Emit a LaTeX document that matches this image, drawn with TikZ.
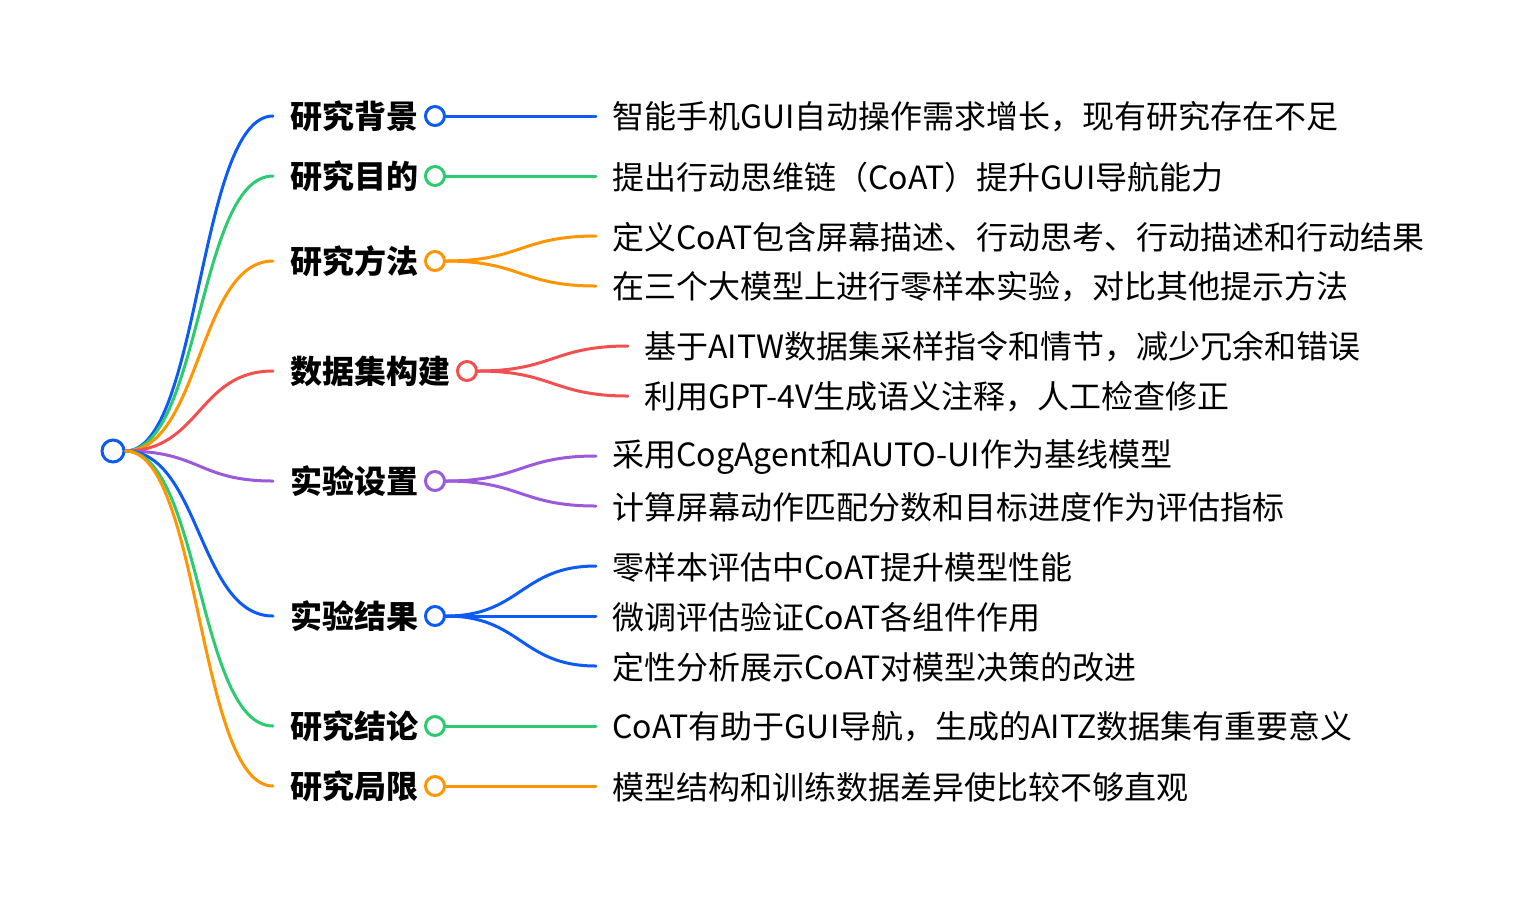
\documentclass[tikz,border=0pt]{standalone}
\usepackage{fontspec}
\setmainfont{Noto Sans CJK SC}
\definecolor{cblue}{HTML}{0D5BF6}
\definecolor{cgreen}{HTML}{2DCB70}
\definecolor{corange}{HTML}{FF9500}
\definecolor{cred}{HTML}{F25050}
\definecolor{cpurple}{HTML}{9B59DB}
\begin{document}
\begin{tikzpicture}[x=0.5pt,y=-0.5pt,
  lvl/.style={anchor=west, inner sep=0pt, font=\fontsize{16pt}{19pt}\selectfont\bfseries},
  leaf/.style={anchor=west, inner sep=0pt, font=\fontsize{16pt}{19pt}\selectfont},
  dot/.style={circle, draw=#1, line width=1.5pt, fill=white, minimum size=9.5pt, inner sep=0pt},
  rootdot/.style={circle, draw=#1, line width=1.5pt, fill=white, minimum size=11pt, inner sep=0pt},
  link/.style={draw=#1, line width=1.5pt, line cap=round},
  hc/.style={out=0, in=180, out distance=37.5pt, in distance=37.5pt}]
\fill[white] (0,0) rectangle (1528,902);
\useasboundingbox (0,0) rectangle (1528,902);

% root
\node[rootdot=cblue] (root) at (113,451) {};

% level labels
\node[lvl] (t1) at (290,116) {研究背景};
\node[lvl] (t2) at (290,176) {研究目的};
\node[lvl] (t3) at (290,261) {研究方法};
\node[lvl] (t4) at (290,371) {数据集构建};
\node[lvl] (t5) at (290,481) {实验设置};
\node[lvl] (t6) at (290,616) {实验结果};
\node[lvl] (t7) at (290,726) {研究结论};
\node[lvl] (t8) at (290,786) {研究局限};

% branch end points
\coordinate (b1) at (273,116);
\coordinate (b2) at (273,176);
\coordinate (b3) at (273,261);
\coordinate (b4) at (273,371);
\coordinate (b5) at (273,481);
\coordinate (b6) at (273,616);
\coordinate (b7) at (273,726);
\coordinate (b8) at (273,786);

% level circles
\node[dot=cblue] (d1) at (435,116) {};
\node[dot=cgreen] (d2) at (435,176) {};
\node[dot=corange] (d3) at (435,261) {};
\node[dot=cred] (d4) at (467,371) {};
\node[dot=cpurple] (d5) at (435,481) {};
\node[dot=cblue] (d6) at (435,616) {};
\node[dot=cgreen] (d7) at (435,726) {};
\node[dot=corange] (d8) at (435,786) {};

% root branches
\draw[link=cblue] (root.east) to[hc] (b1);
\draw[link=cgreen] (root.east) to[hc] (b2);
\draw[link=corange] (root.east) to[hc] (b3);
\draw[link=cred] (root.east) to[hc] (b4);
\draw[link=cpurple] (root.east) to[hc] (b5);
\draw[link=cblue] (root.east) to[hc] (b6);
\draw[link=cgreen] (root.east) to[hc] (b7);
\draw[link=corange] (root.east) to[hc] (b8);

% leaf end points
\coordinate (e1) at (596,116);
\coordinate (e2) at (596,176);
\coordinate (e3a) at (596,236);
\coordinate (e3b) at (596,286);
\coordinate (e4a) at (628,346);
\coordinate (e4b) at (628,396);
\coordinate (e5a) at (596,456);
\coordinate (e5b) at (596,506);
\coordinate (e6a) at (596,566);
\coordinate (e6b) at (596,616);
\coordinate (e6c) at (596,666);
\coordinate (e7) at (596,726);
\coordinate (e8) at (596,786);

% leaf texts
\node[leaf] (l1) at (612,117) {智能手机GUI自动操作需求增长，现有研究存在不足};
\node[leaf] (l2) at (612,177) {提出行动思维链（CoAT）提升GUI导航能力};
\node[leaf] (l3a) at (612,237) {定义CoAT包含屏幕描述、行动思考、行动描述和行动结果};
\node[leaf] (l3b) at (612,287) {在三个大模型上进行零样本实验，对比其他提示方法};
\node[leaf] (l4a) at (644,347) {基于AITW数据集采样指令和情节，减少冗余和错误};
\node[leaf] (l4b) at (644,397) {利用GPT-4V生成语义注释，人工检查修正};
\node[leaf] (l5a) at (612,457) {采用CogAgent和AUTO-UI作为基线模型};
\node[leaf] (l5b) at (612,507) {计算屏幕动作匹配分数和目标进度作为评估指标};
\node[leaf] (l6a) at (612,567) {零样本评估中CoAT提升模型性能};
\node[leaf] (l6b) at (612,617) {微调评估验证CoAT各组件作用};
\node[leaf] (l6c) at (612,667) {定性分析展示CoAT对模型决策的改进};
\node[leaf] (l7) at (612,727) {CoAT有助于GUI导航，生成的AITZ数据集有重要意义};
\node[leaf] (l8) at (612,787) {模型结构和训练数据差异使比较不够直观};

% level to leaf connectors
\draw[link=cblue] (d1.east) -- (e1);
\draw[link=cgreen] (d2.east) -- (e2);
\draw[link=corange] (d3.east) to[hc] (e3a);
\draw[link=corange] (d3.east) to[hc] (e3b);
\draw[link=cred] (d4.east) to[hc] (e4a);
\draw[link=cred] (d4.east) to[hc] (e4b);
\draw[link=cpurple] (d5.east) to[hc] (e5a);
\draw[link=cpurple] (d5.east) to[hc] (e5b);
\draw[link=cblue] (d6.east) to[hc] (e6a);
\draw[link=cblue] (d6.east) -- (e6b);
\draw[link=cblue] (d6.east) to[hc] (e6c);
\draw[link=cgreen] (d7.east) -- (e7);
\draw[link=corange] (d8.east) -- (e8);
\end{tikzpicture}
\end{document}
